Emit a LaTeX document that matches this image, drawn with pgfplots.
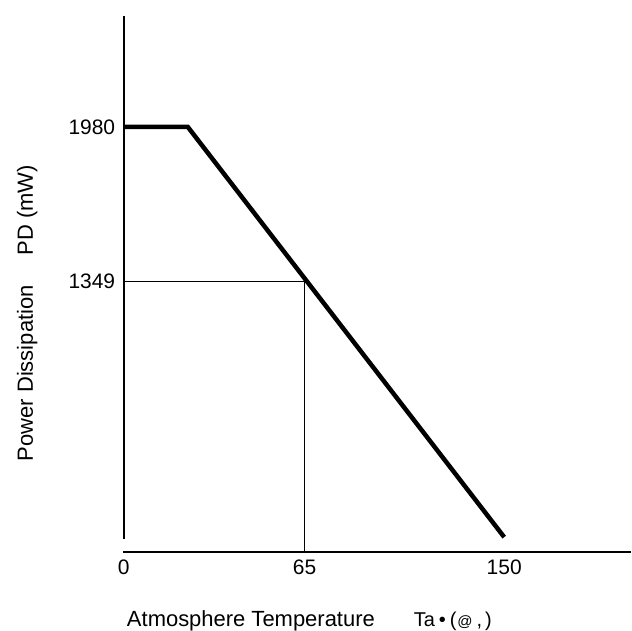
\documentclass[border=0pt]{standalone}
\usepackage{fontspec}
\setmainfont{Liberation Sans}
\usepackage{pgfplots}
\pgfplotsset{compat=1.18}
\begin{document}
\begin{tikzpicture}
  % axis units follow the schematic layout: tick positions are labelled with the real values
  \begin{axis}[
    width=632pt, height=630pt, scale only axis,
    xmin=-124, xmax=508, ymin=-77, ymax=553,
    axis lines=middle,
    axis line style={draw=none},
    tick style={draw=none},
    hide obscured x ticks=false,
    hide obscured y ticks=false,
    xtick={0,181,381}, xticklabels={0,65,150},
    ytick={271,426}, yticklabels={1349,1980},
    tick label style={font=\fontsize{21}{25}\selectfont},
    xticklabel style={anchor=north, yshift=-2pt},
    yticklabel style={anchor=east, xshift=-3pt},
    /pgf/number format/assume math mode=true,
    clip=false
  ]
    \path (rel axis cs:0,0) rectangle (rel axis cs:1,1);
    % axis lines
    \addplot[black, line width=2pt] coordinates {(0,13) (0,537)};
    \addplot[black, line width=2pt] coordinates {(-1,0) (508,0)};
    % reading at 65
    \addplot[black, line width=1.2pt] coordinates {(0,271) (181,271) (181,0)};
    % derating curve
    \addplot[black, line width=4.5pt, line join=miter] coordinates {(0,426) (64,426) (381,15)};
    \node[anchor=base west, inner sep=0pt, font=\fontsize{22}{26}\selectfont]
      at (axis cs:3,-74) {Atmosphere Temperature\hspace{39pt}{\fontsize{20}{24}\selectfont
        Ta\kern4pt•\kern4pt(\kern1pt{\fontsize{15}{18}\selectfont @}\kern4pt,\kern3pt)}};
    \node[anchor=base west, rotate=90, inner sep=0pt, font=\fontsize{22}{26}\selectfont]
      at (axis cs:-91,91) {Power Dissipation\hspace{30pt}PD (mW)};
  \end{axis}
\end{tikzpicture}
\end{document}
